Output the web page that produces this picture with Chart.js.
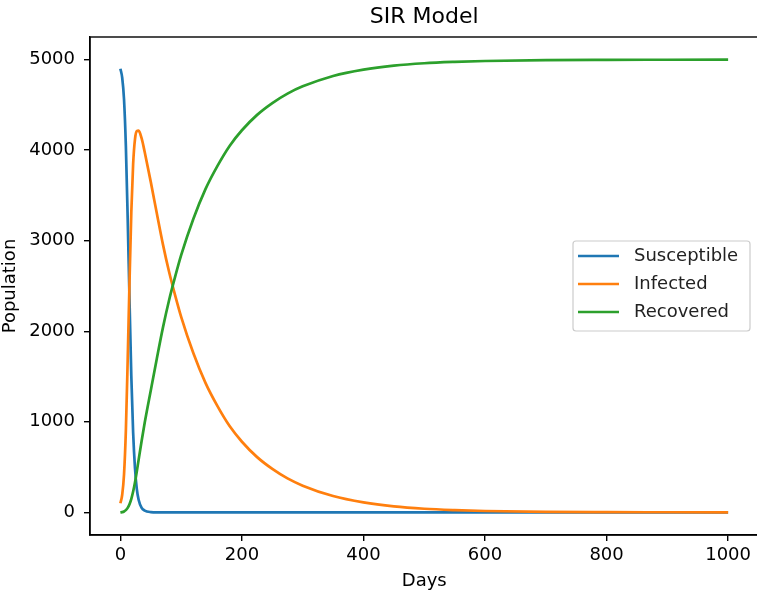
<!DOCTYPE html>
<html>
<head>
<meta charset="utf-8">
<script src="https://cdn.jsdelivr.net/npm/chart.js@4"></script>
<style>
    html, body { margin: 0; padding: 0; overflow: hidden; background: #fff; }
</style>
</head>
<body>
<canvas id="chartCanvas" width="760" height="592" style="width:760px;height:592px"></canvas>
<script>
// values
const days = [0, 3, 6, 9, 12, 15, 18, 21, 24, 27, 30, 35, 40, 50, 60, 70, 80, 90, 100, 120, 140, 160, 180, 200, 225, 250, 275, 300, 350, 400, 450, 500, 550, 600, 700, 800, 900, 1000];
const susceptible = [4900, 4800, 4560, 4050, 3250, 2350, 1500, 880, 490, 260, 140, 50, 20, 3, 0, 0, 0, 0, 0, 0, 0, 0, 0, 0, 0, 0, 0, 0, 0, 0, 0, 0, 0, 0, 0, 0, 0, 0];
const infected = [100, 195, 420, 900, 1680, 2540, 3320, 3850, 4120, 4210, 4215, 4130, 3980, 3650, 3300, 2960, 2660, 2400, 2160, 1760, 1430, 1170, 950, 780, 610, 480, 375, 295, 180, 110, 66, 40, 25, 15, 5, 2, 1, 0];
const recovered = [0, 3, 10, 25, 50, 90, 150, 230, 330, 450, 580, 790, 990, 1347, 1700, 2040, 2340, 2600, 2840, 3240, 3570, 3830, 4050, 4220, 4390, 4520, 4625, 4705, 4820, 4890, 4934, 4960, 4975, 4985, 4995, 4998, 4999, 5000];
const xTicks = [0, 200, 400, 600, 800, 1000];
const yTicks = [0, 1000, 2000, 3000, 4000, 5000];

const font = "'DejaVu Sans', sans-serif";

function points(values) {
    return days.map((d, i) => ({ x: d, y: values[i] }));
}

// axes frame + legend box drawn like matplotlib
const framePlugin = {
    id: 'frame',
    afterDraw(chart) {
        const ctx = chart.ctx;
        const a = chart.chartArea;
        ctx.save();
        ctx.strokeStyle = '#000';
        ctx.lineWidth = 1.4;
        ctx.strokeRect(a.left, a.top, a.right - a.left, a.bottom - a.top);

        const boxW = 177, boxH = 90;
        const bx = a.right - 8.5 - boxW;
        const by = (a.top + a.bottom) / 2 - boxH / 2;
        ctx.beginPath();
        ctx.roundRect(bx, by, boxW, boxH, 3);
        ctx.fillStyle = 'rgba(255,255,255,0.8)';
        ctx.fill();
        ctx.strokeStyle = '#cccccc';
        ctx.lineWidth = 1.2;
        ctx.stroke();

        ctx.font = '18px ' + font;
        ctx.textBaseline = 'middle';
        ctx.textAlign = 'left';
        chart.data.datasets.forEach((ds, i) => {
            const y = by + 15 + i * 28;
            ctx.strokeStyle = ds.borderColor;
            ctx.lineWidth = 2.7;
            ctx.beginPath();
            ctx.moveTo(bx + 5, y);
            ctx.lineTo(bx + 46, y);
            ctx.stroke();
            ctx.fillStyle = '#222';
            ctx.fillText(ds.label, bx + 61, y);
        });
        ctx.restore();
    }
};

const ctx = document.getElementById("chartCanvas").getContext("2d");
new Chart(ctx, {
    type: "line",
    data: {
        datasets: [
            { label: "Susceptible", data: points(susceptible), borderColor: "#1f77b4", order: 3 },
            { label: "Infected", data: points(infected), borderColor: "#ff7f0e", order: 2 },
            { label: "Recovered", data: points(recovered), borderColor: "#2ca02c", order: 1 }
        ]
    },
    options: {
        responsive: false,
        animation: false,
        events: [],
        layout: { padding: { left: 0, right: 1.5, top: 0, bottom: 0 } },
        elements: {
            point: { radius: 0 },
            line: { borderWidth: 2.7, cubicInterpolationMode: 'monotone', fill: false }
        },
        plugins: {
            legend: { display: false },
            tooltip: { enabled: false },
            title: {
                display: true,
                text: "SIR Model",
                fullSize: false,
                color: '#000',
                font: { family: font, size: 22, weight: 'normal', lineHeight: 1.2 },
                padding: { top: 4, bottom: 6.6 }
            }
        },
        scales: {
            x: {
                type: 'linear',
                min: -50,
                max: 1050,
                afterBuildTicks: s => { s.ticks = xTicks.map(v => ({ value: v })); },
                afterFit: s => { s.height = 57; },
                grid: { drawOnChartArea: false, drawTicks: true, tickLength: 6, color: '#000', lineWidth: 1.4 },
                border: { display: true, color: '#000', width: 1.4 },
                ticks: { color: '#000', padding: 4, maxRotation: 0, font: { family: font, size: 18 }, callback: v => String(v) },
                title: { display: true, text: "Days", color: '#000', padding: { top: 0, bottom: 0 }, font: { family: font, size: 18 } }
            },
            y: {
                type: 'linear',
                min: -250,
                max: 5250,
                afterBuildTicks: s => { s.ticks = yTicks.map(v => ({ value: v })); },
                afterFit: s => { s.width = 90; },
                grid: { drawOnChartArea: false, drawTicks: true, tickLength: 6, color: '#000', lineWidth: 1.4 },
                border: { display: true, color: '#000', width: 1.4 },
                ticks: { color: '#000', padding: 9, font: { family: font, size: 18 }, callback: v => String(v) },
                title: { display: true, text: "Population", color: '#000', padding: { top: 0, bottom: 0 }, font: { family: font, size: 18 } }
            }
        }
    },
    plugins: [framePlugin]
});
</script>
</body>
</html>
